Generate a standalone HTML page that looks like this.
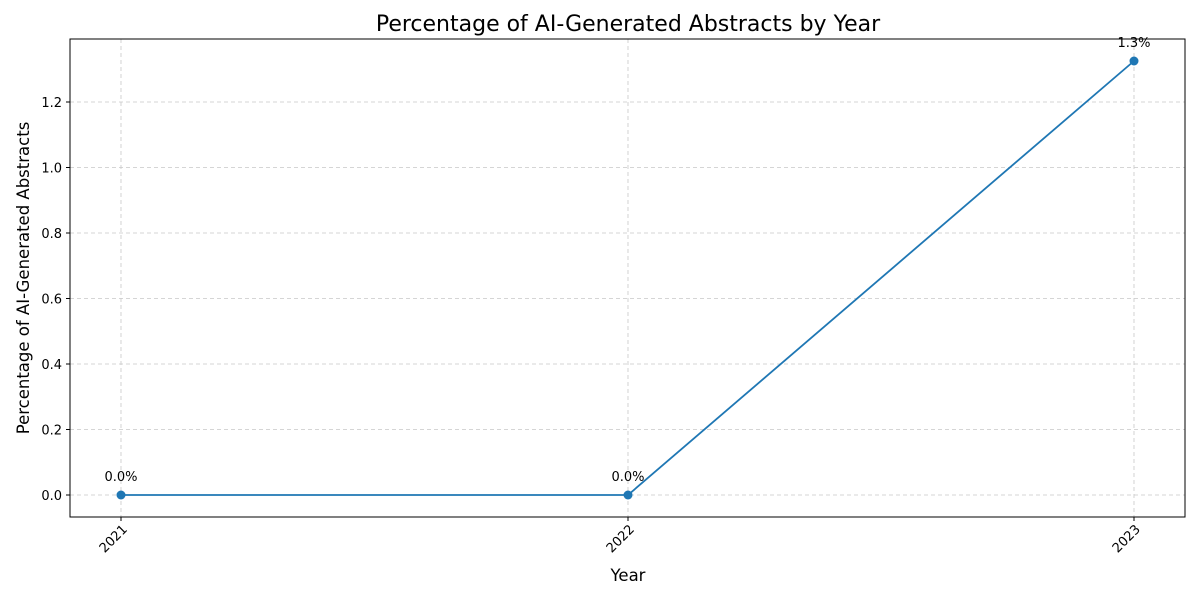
<!DOCTYPE html>
<html><head><style>body{margin:0;background:#fff}</style></head><body>
<svg width="1200" height="600" xmlns="http://www.w3.org/2000/svg" font-family="'DejaVu Sans', sans-serif">
<rect width="1200" height="600" fill="#fff"/>
<g stroke="#c8c8c8" stroke-width="0.8" stroke-dasharray="4,3">
<line x1="121" y1="39" x2="121" y2="517"/><line x1="628" y1="39" x2="628" y2="517"/><line x1="1134" y1="39" x2="1134" y2="517"/>
<line x1="70" y1="495" x2="1185" y2="495"/><line x1="70" y1="429.5" x2="1185" y2="429.5"/><line x1="70" y1="364" x2="1185" y2="364"/>
<line x1="70" y1="298.5" x2="1185" y2="298.5"/><line x1="70" y1="233" x2="1185" y2="233"/><line x1="70" y1="167.5" x2="1185" y2="167.5"/><line x1="70" y1="102" x2="1185" y2="102"/>
</g>
<rect x="70" y="39" width="1115" height="478" fill="none" stroke="#000" stroke-width="1"/>
<g stroke="#000" stroke-width="1">
<line x1="121" y1="517" x2="121" y2="521"/><line x1="628" y1="517" x2="628" y2="521"/><line x1="1134" y1="517" x2="1134" y2="521"/>
<line x1="66" y1="495" x2="70" y2="495"/><line x1="66" y1="429.5" x2="70" y2="429.5"/><line x1="66" y1="364" x2="70" y2="364"/><line x1="66" y1="298.5" x2="70" y2="298.5"/><line x1="66" y1="233" x2="70" y2="233"/><line x1="66" y1="167.5" x2="70" y2="167.5"/><line x1="66" y1="102" x2="70" y2="102"/>
</g>
<g font-size="13" text-anchor="end" fill="#000">
<text x="62" y="500">0.0</text><text x="62" y="434.5">0.2</text><text x="62" y="369">0.4</text><text x="62" y="303.5">0.6</text><text x="62" y="238">0.8</text><text x="62" y="172.5">1.0</text><text x="62" y="107">1.2</text>
<text transform="translate(128,530) rotate(-45)">2021</text>
<text transform="translate(635,530) rotate(-45)">2022</text>
<text transform="translate(1141,530) rotate(-45)">2023</text>
</g>
<polyline points="121,495 628,495 1134,61" fill="none" stroke="#1f77b4" stroke-width="1.8"/>
<g fill="#1f77b4"><circle cx="121" cy="495" r="4.5"/><circle cx="628" cy="495" r="4.5"/><circle cx="1134" cy="61" r="4.5"/></g>
<g font-size="13" text-anchor="middle">
<text x="121" y="481">0.0%</text><text x="628" y="481">0.0%</text><text x="1134" y="47">1.3%</text>
<text x="628" y="581" font-size="16.5">Year</text>
<text x="628" y="31" font-size="22">Percentage of AI-Generated Abstracts by Year</text>
<text transform="translate(29,278) rotate(-90)" font-size="16.5">Percentage of AI-Generated Abstracts</text>
</g>
</svg>
</body></html>
